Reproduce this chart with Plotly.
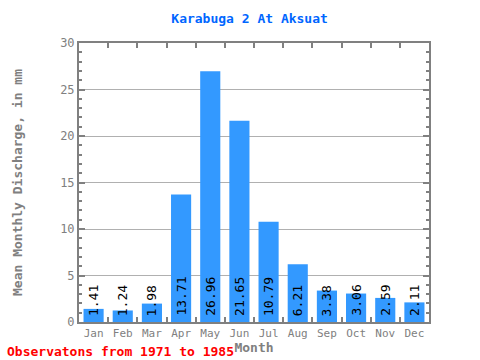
import plotly.graph_objects as go

months = ["Jan", "Feb", "Mar", "Apr", "May", "Jun", "Jul", "Aug", "Sep", "Oct", "Nov", "Dec"]
values = [1.41, 1.24, 1.98, 13.71, 26.96, 21.65, 10.79, 6.21, 3.38, 3.06, 2.59, 2.11]
labels = [f"{v:.2f}" for v in values]

FONT = "DejaVu Sans Mono"
GRAY = "#808080"

fig = go.Figure()
fig.add_trace(go.Bar(x=months, y=values, marker=dict(color="#3399FF", line=dict(width=0)),
                     width=0.69, hoverinfo="skip"))

for m, v, t in zip(months, values, labels):
    fig.add_annotation(x=m, y=0, text=t, textangle=-90, showarrow=False,
                       yanchor="bottom", xanchor="center", yshift=4,
                       font=dict(family=FONT, size=13, color="black"))

fig.update_layout(
    width=480, height=360,
    margin=dict(l=79, r=51, t=43, b=38, autoexpand=False),
    paper_bgcolor="white", plot_bgcolor="white",
    showlegend=False,
    title=dict(text="<b>Karabuga 2 At Aksuat</b>", x=0.52, xanchor="center", y=0.95, yanchor="middle",
               font=dict(family=FONT, size=13, color="#0066FF")),
    xaxis=dict(title=dict(text="<b>Month</b>", font=dict(family=FONT, size=13, color=GRAY), standoff=0),
               tickfont=dict(family=FONT, size=11, color=GRAY), tickangle=0, automargin=False,
               showline=True, linecolor=GRAY, linewidth=2, mirror="ticks",
               ticks="inside", tickson="boundaries", ticklen=5, tickcolor=GRAY, tickwidth=2,
               showgrid=False),
    yaxis=dict(title=dict(text="<b>Mean Monthly Discharge, in mm</b>", font=dict(family=FONT, size=13, color=GRAY), standoff=35),
               tickfont=dict(family=FONT, size=12, color=GRAY), automargin=False,
               range=[0, 30], tickvals=[0, 5, 10, 15, 20, 25, 30],
               showline=True, linecolor=GRAY, linewidth=2, mirror="ticks",
               ticks="inside", ticklen=6, tickcolor=GRAY, tickwidth=2,
               minor=dict(dtick=1, ticks="inside", ticklen=3, tickcolor=GRAY, tickwidth=1.5),
               showgrid=True, gridcolor="#b0b0b0", gridwidth=1, zeroline=False),
)

fig.add_annotation(text="<b>Observatons from 1971 to 1985</b>", xref="paper", yref="paper",
                   x=-0.211, y=-0.104, xanchor="left", yanchor="middle", showarrow=False,
                   font=dict(family=FONT, size=13, color="red"))

fig.write_html("out.html", config={"displayModeBar": False},
               post_script="document.body.style.margin='0';")
